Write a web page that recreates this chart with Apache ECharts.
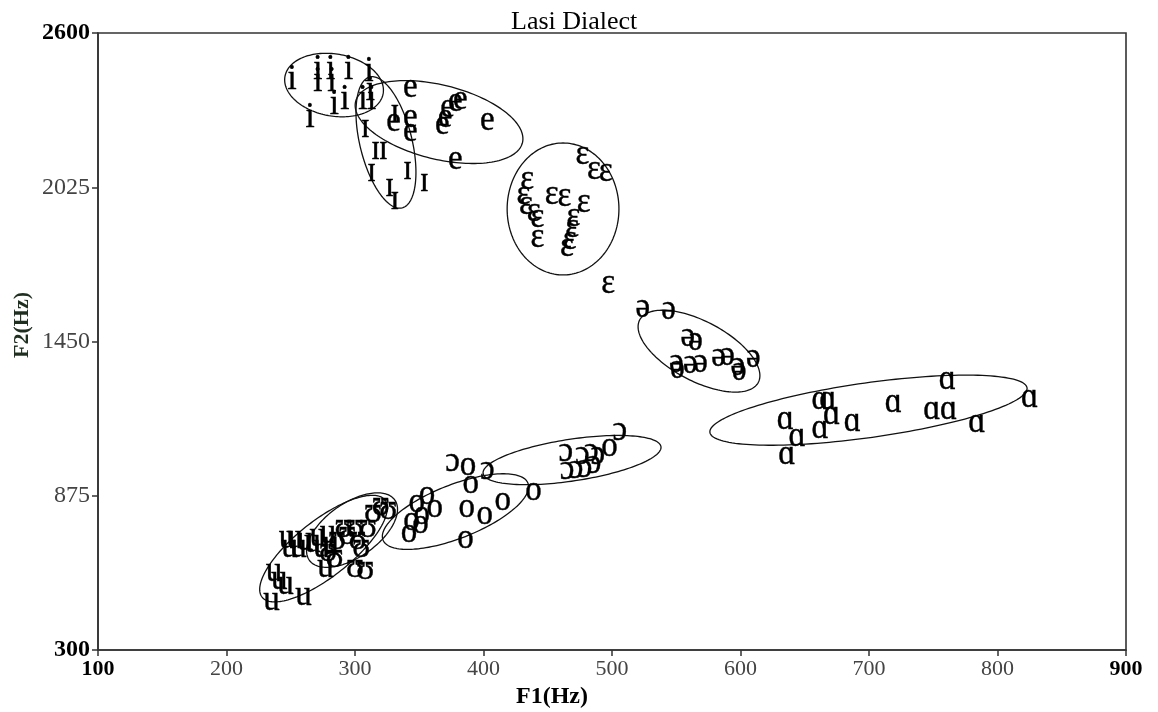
<!DOCTYPE html>
<html><head><meta charset="utf-8">
<script src="https://cdn.jsdelivr.net/npm/echarts@6/dist/echarts.min.js"></script>
<style>html,body{margin:0;padding:0;background:#fff}#c{width:1158px;height:712px}</style>
</head><body><div id="c"></div>
<script>
// Axis ticks
const xTicks = [100, 200, 300, 400, 500, 600, 700, 800, 900];
const yTicks = [300, 875, 1450, 2025, 2600];

// Vowel tokens [F1, F2] in Hz
const vowel_i = [[251,2425],[271,2462],[271,2417],[281,2462],[282,2417],[295,2462],[311,2455],[312,2387],[313,2350],[265,2283],[284,2332],[292,2350],[306,2350]];
const vowel_I = [[308,2246],[316,2164],[322,2164],[313,2082],[341,2089],[327,2026],[331,1977],[354,2045],[331,2302]];
const vowel_e = [[343,2395],[330,2268],[343,2283],[343,2231],[370,2283],[372,2320],[378,2343],[382,2350],[403,2272],[378,2127],[368,2257]];
const vowel_eps = [[477,2145],[486,2089],[495,2082],[434,2052],[431,1996],[433,1959],[439,1933],[442,1910],[442,1839],[453,1996],[463,1989],[478,1966],[470,1914],[469,1873],[467,1828],[465,1802],[497,1664]];
const vowel_schwa = [[524,1575],[544,1567],[559,1470],[565,1452],[550,1373],[561,1366],[551,1347],[569,1373],[583,1392],[590,1396],[598,1359],[599,1340],[610,1388]];
const vowel_a = [[635,1157],[644,1094],[636,1027],[662,1232],[668,1232],[662,1127],[671,1176],[687,1150],[719,1221],[749,1195],[762,1195],[761,1306],[784,1146],[825,1239]];
const vowel_openo = [[376,1004],[403,971],[464,1038],[465,971],[472,975],[477,1027],[484,1038],[489,1030],[506,1116],[479,978],[486,993]];
const vowel_o = [[388,986],[390,922],[356,881],[348,848],[362,829],[352,803],[344,784],[342,736],[351,770],[387,829],[401,803],[415,855],[386,717],[439,893],[498,1057]];
const vowel_u = [[247,717],[253,717],[249,680],[256,680],[261,706],[267,699],[271,721],[237,591],[241,561],[246,542],[235,483],[260,501],[277,606],[274,680],[281,691],[279,732]];
const vowel_U = [[291,755],[300,758],[310,755],[314,811],[320,840],[326,822],[286,710],[279,665],[284,643],[305,680],[300,606],[308,598],[294,729],[302,710]];

// Ellipses: [centerF1, centerF2, majorEndF1, majorEndF2, minorEndF1, minorEndF2]
const ell_i = [283.7, 2406, 321.9, 2374, 279.5, 2292];
const ell_e = [365.4, 2268, 430.3, 2191, 358.4, 2134];
const ell_I = [324.1, 2192, 336.6, 1948, 304.4, 2169];
const ell_eps = [461.9, 1944, 461.9, 1698, 505.4, 1944];
const ell_schwa = [567.7, 1414, 613.8, 1297, 556.7, 1316];
const ell_a = [699.6, 1194, 823.0, 1277, 702.6, 1093];
const ell_openo = [468.9, 1008, 538.1, 1058, 471.3, 931];
const ell_o = [378.2, 816, 434.6, 922, 385.9, 723];
const ell_u = [275.5, 678, 323.3, 859, 289.0, 596];
const ell_U = [297.7, 747, 331.0, 859, 309.7, 665];

const SERIF = '"Liberation Serif","Times New Roman","DejaVu Serif",serif';

function glyphSeries(glyph, data) {
  return {
    type: 'custom', data: data, encode: {x: 0, y: 1}, z: 3, silent: true,
    renderItem: function (p, api) {
      const pt = api.coord([api.value(0), api.value(1)]);
      return {type: 'text', x: pt[0], y: pt[1], scaleY: 1.08,
        style: {text: glyph, font: '33px ' + SERIF, fill: '#000', stroke: '#000', lineWidth: 0.4,
                textAlign: 'center', textVerticalAlign: 'middle'}};
    }
  };
}
function ellipseSeries(e) {
  return {
    type: 'custom', data: [e], encode: {x: 0, y: 1}, z: 2, silent: true,
    renderItem: function (p, api) {
      const c = [api.value(0), api.value(1)], m = [api.value(2), api.value(3)], n = [api.value(4), api.value(5)];
      const pts = [];
      for (let k = 0; k < 160; k++) {
        const t = k / 160 * Math.PI * 2;
        const f1 = c[0] + (m[0] - c[0]) * Math.cos(t) + (n[0] - c[0]) * Math.sin(t);
        const f2 = c[1] + (m[1] - c[1]) * Math.cos(t) + (n[1] - c[1]) * Math.sin(t);
        pts.push(api.coord([f1, f2]));
      }
      return {type: 'polygon', shape: {points: pts}, style: {fill: null, stroke: '#111', lineWidth: 1.3}};
    }
  };
}

const chart = echarts.init(document.getElementById('c'), null, {renderer: 'canvas'});
chart.setOption({
  animation: false,
  backgroundColor: '#fff',
  title: {text: 'Lasi Dialect', left: 506, top: 4,
    textStyle: {fontFamily: SERIF, fontSize: 26, fontWeight: 'normal', color: '#000'}},
  grid: {left: 98, right: 32, top: 33, bottom: 62, show: true, borderColor: '#333', borderWidth: 1.6, backgroundColor: 'transparent'},
  xAxis: {
    type: 'value', min: xTicks[0], max: xTicks[xTicks.length - 1], interval: xTicks[1] - xTicks[0],
    axisLine: {show: true, lineStyle: {color: '#333', width: 1.6}},
    axisTick: {show: true, inside: false, length: 6, lineStyle: {color: '#333', width: 1.5}},
    splitLine: {show: false},
    axisLabel: {margin: 8, showMinLabel: true, showMaxLabel: true,
      formatter: function (v) { return (v === xTicks[0] || v === xTicks[xTicks.length - 1]) ? '{b|' + v + '}' : '{n|' + v + '}'; },
      rich: {b: {fontFamily: SERIF, fontSize: 22, fontWeight: 'bold', color: '#000'},
             n: {fontFamily: SERIF, fontSize: 22, color: '#444'}}}
  },
  yAxis: {
    type: 'value', min: yTicks[0], max: yTicks[yTicks.length - 1], interval: yTicks[1] - yTicks[0],
    axisLine: {show: true, lineStyle: {color: '#333', width: 1.6}},
    axisTick: {show: true, inside: false, length: 6, lineStyle: {color: '#333', width: 1.5}},
    splitLine: {show: false},
    axisLabel: {margin: 8, showMinLabel: true, showMaxLabel: true,
      formatter: function (v) { return (v === yTicks[0] || v === yTicks[yTicks.length - 1]) ? '{b|' + v + '}' : '{n|' + v + '}'; },
      rich: {b: {fontFamily: SERIF, fontSize: 24, fontWeight: 'bold', color: '#000'},
             n: {fontFamily: SERIF, fontSize: 24, color: '#444'}}}
  },
  graphic: [
    {type: 'text', x: 552, y: 697, style: {text: 'F1(Hz)', font: 'bold 24px ' + SERIF, fill: '#000', textAlign: 'center', textVerticalAlign: 'middle'}},
    {type: 'text', x: 22, y: 325, rotation: Math.PI / 2, style: {text: 'F2(Hz)', font: 'bold 22px ' + SERIF, fill: '#1f2f1f', textAlign: 'center', textVerticalAlign: 'middle'}}
  ],
  series: [
    ellipseSeries(ell_i), ellipseSeries(ell_e), ellipseSeries(ell_I), ellipseSeries(ell_eps),
    ellipseSeries(ell_schwa), ellipseSeries(ell_a), ellipseSeries(ell_openo), ellipseSeries(ell_o),
    ellipseSeries(ell_u), ellipseSeries(ell_U),
    glyphSeries('i', vowel_i), glyphSeries('ɪ', vowel_I), glyphSeries('e', vowel_e),
    glyphSeries('ɛ', vowel_eps), glyphSeries('ə', vowel_schwa), glyphSeries('ɑ', vowel_a),
    glyphSeries('ɔ', vowel_openo), glyphSeries('o', vowel_o), glyphSeries('u', vowel_u), glyphSeries('ʊ', vowel_U)
  ]
});
</script></body></html>
